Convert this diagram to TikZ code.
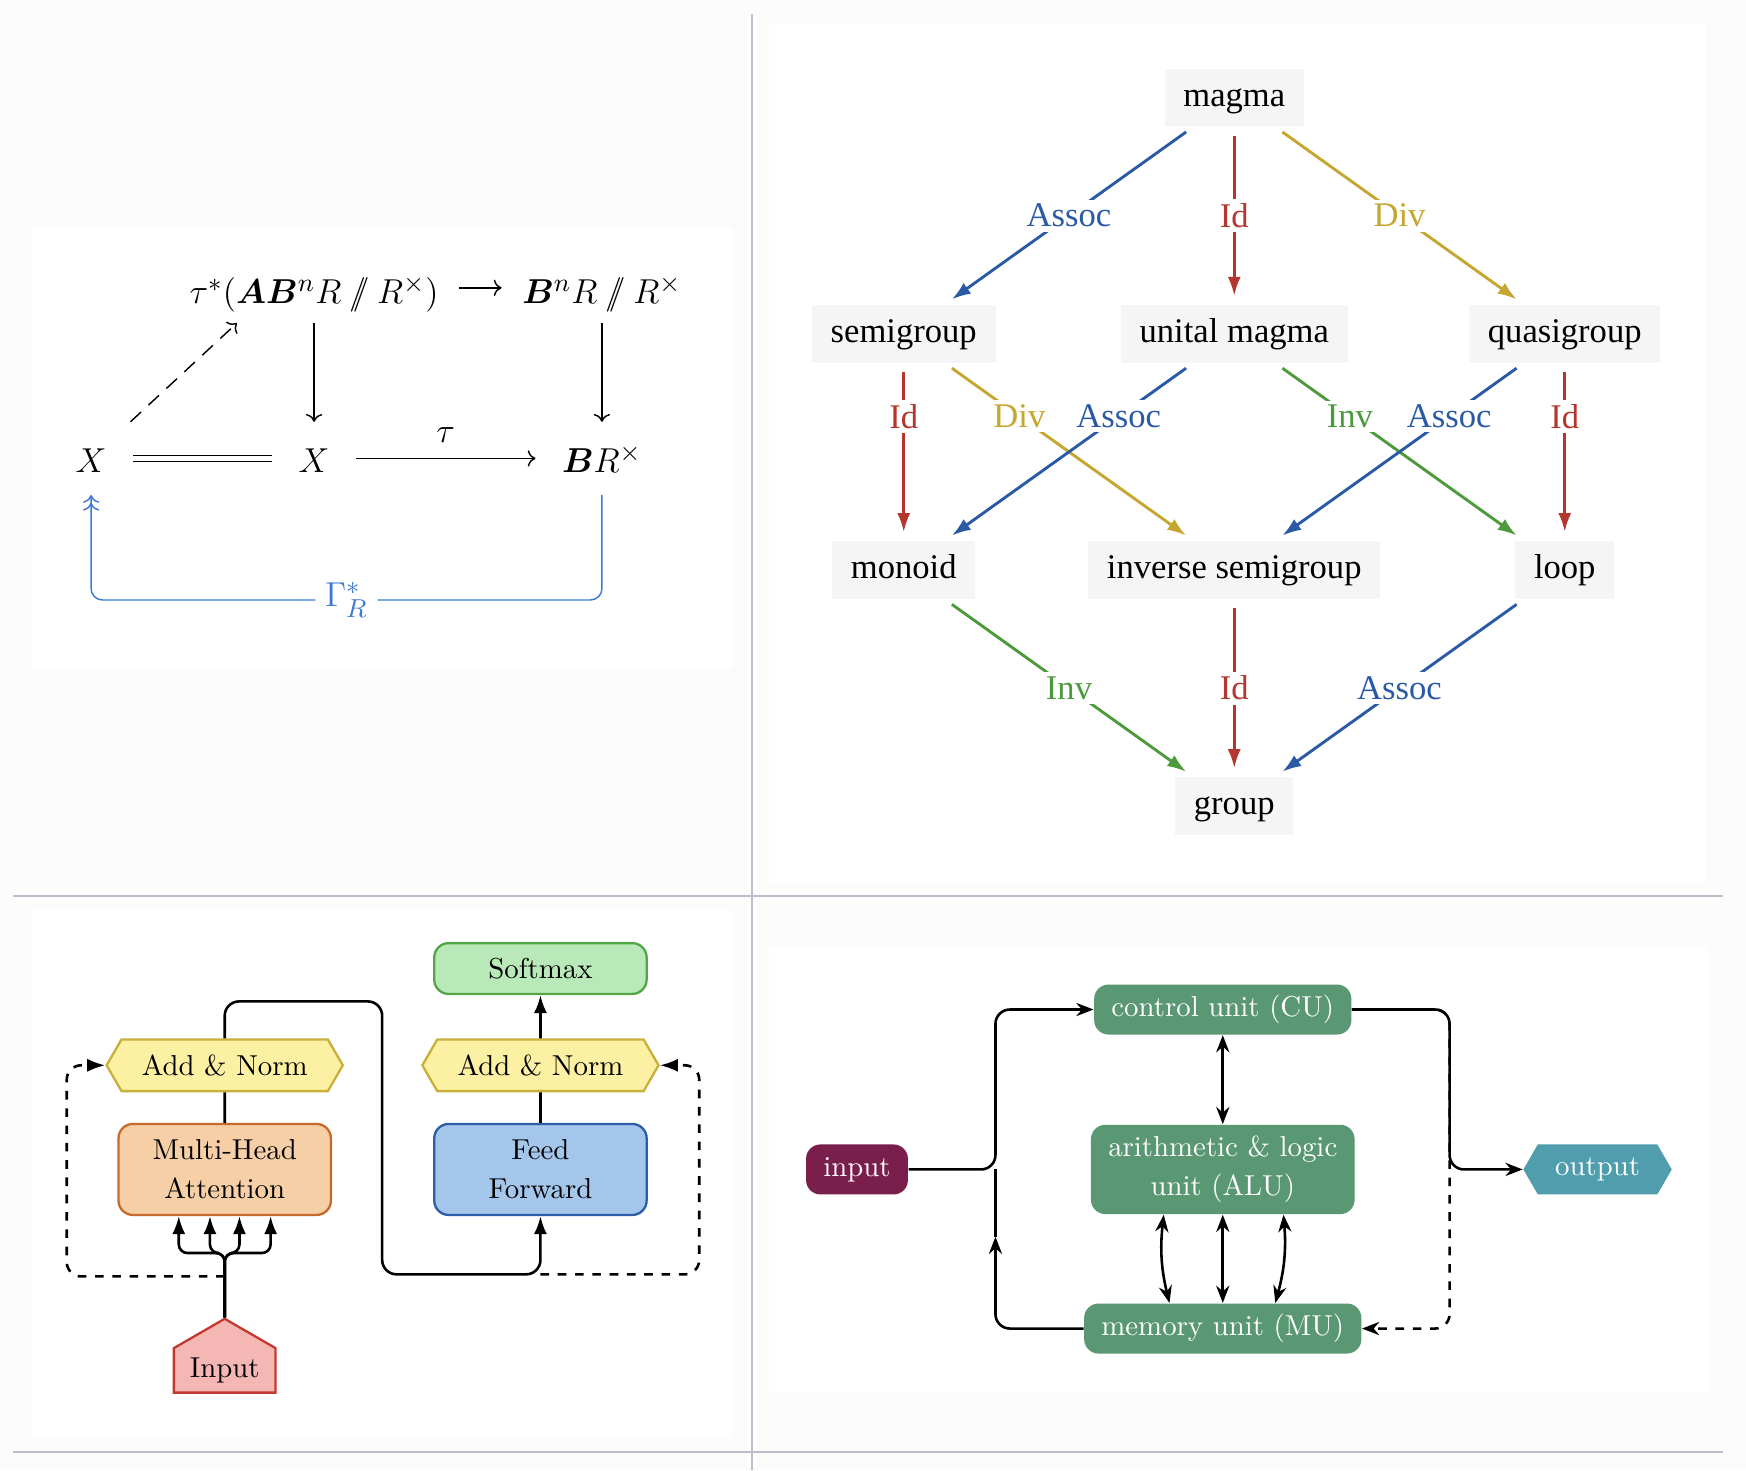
\documentclass[tikz,border=0pt]{standalone}
\usepackage{fontspec}
\usepackage{amsmath,bm}
\usetikzlibrary{positioning,calc,arrows.meta,shapes.symbols}
\newfontfamily\algfont{Liberation Serif}
\newcommand{\dslash}{\mathbin{/\mkern-7mu/}}
\definecolor{pagegray}{HTML}{FCFCFC}
\definecolor{rulegray}{HTML}{BDBDCB}
\definecolor{gammablue}{HTML}{3D7AD6}
\definecolor{boxgray}{HTML}{F5F5F5}
\definecolor{assocblue}{HTML}{2A5AA6}
\definecolor{idred}{HTML}{B5362E}
\definecolor{divyellow}{HTML}{C5A630}
\definecolor{invgreen}{HTML}{4D9A3C}
\definecolor{softfill}{HTML}{B9E8B9}
\definecolor{softline}{HTML}{52A647}
\definecolor{addfill}{HTML}{FCF0A2}
\definecolor{addline}{HTML}{C8B03A}
\definecolor{mhafill}{HTML}{F7CFA6}
\definecolor{mhaline}{HTML}{C66B2B}
\definecolor{fffill}{HTML}{A4C6EB}
\definecolor{ffline}{HTML}{2C5DA9}
\definecolor{inputfill}{HTML}{F4B7B3}
\definecolor{inputline}{HTML}{C4392F}
\definecolor{unitgreen}{HTML}{5A9873}
\definecolor{inwine}{HTML}{7A1F4B}
\definecolor{outteal}{HTML}{4F9DAD}
\begin{document}
\begin{tikzpicture}[
    cd/.style={font=\fontsize{13}{16}\selectfont, inner xsep=9pt, inner ysep=4pt, text height=13.5pt, text depth=3.5pt},
    cdtop/.style={cd, inner xsep=7pt, text depth=2.5pt},
    cdarrow/.style={->, line width=0.5pt},
    alg/.style={fill=boxgray, font=\algfont\fontsize{12}{14}\selectfont, inner xsep=6.5pt, inner ysep=4.5pt, text height=8.5pt, text depth=2.5pt},
    algarrow/.style={line width=1pt, -{Latex[length=2.3mm,width=1.6mm]}, shorten <=3pt, shorten >=3pt},
    lbl/.style={fill=white, inner sep=1.5pt, font=\algfont\fontsize{12}{14}\selectfont},
    block/.style={draw, thick, rounded corners=5pt, minimum width=2.59cm, align=center, font=\fontsize{10}{13.5}\selectfont},
    addnorm/.style={draw=addline, fill=addfill, thick, shape=signal, signal to=west and east, signal pointer angle=120, minimum width=2.88cm, minimum height=0.63cm},
    flow/.style={line width=0.9pt, -{Latex[length=2.2mm,width=1.6mm]}, rounded corners=5pt},
    cpu/.style={fill=unitgreen, text=white, rounded corners=5pt, inner xsep=6pt, minimum height=0.61cm, align=center, font=\fontsize{10}{13.5}\selectfont},
    bus/.style={line width=0.9pt, -{Stealth[length=2.1mm,width=1.6mm]}, rounded corners=5pt},
    biarrow/.style={line width=0.9pt, {Stealth[length=2.1mm,width=1.6mm]}-{Stealth[length=2.1mm,width=1.6mm]}},
    divider/.style={rulegray, line width=0.7pt}
]
\useasboundingbox (0,0) rectangle (21.29,17.93);
\fill[pagegray] (0,0) rectangle (21.29,17.93);
\fill[white] (0.38,9.78) rectangle (8.94,15.15);
\fill[white] (9.38,7.18) rectangle (20.80,17.65);
\fill[white] (0.38,0.41) rectangle (8.93,6.83);
\fill[white] (9.38,0.94) rectangle (20.82,6.39);
\draw[divider] (9.17,0) -- (9.17,17.76);
\draw[divider] (0.16,7.01) -- (21.01,7.01);
\draw[divider] (0.16,0.23) -- (21.01,0.23);

\node[cdtop] (tau) at (3.83,14.42) {$\tau^*(\bm{AB}^n R \dslash R^\times)$};
\node[cdtop] (BnR) [right of=tau, node distance=3.51cm] {$\bm{B}^n R \dslash R^\times$};
\node[cd] (Xm) [below of=tau, node distance=2.08cm] {$X$};
\node[cd] (Xl) [left of=Xm, node distance=2.72cm] {$X$};
\node[cd] (BR) [below of=BnR, node distance=2.08cm] {$\bm{B}R^\times$};
\draw[cdarrow] (tau) -- (BnR);
\draw[cdarrow] (tau) -- (Xm);
\draw[cdarrow] (BnR) -- (BR);
\draw[cdarrow, dash pattern=on 5pt off 3.5pt] (Xl) -- ([xshift=-0.94cm]tau.south);
\draw[line width=0.5pt, double, double distance=1.6pt] (Xl) -- (Xm);
\draw[cdarrow] (Xm) -- node[above=2pt, font=\fontsize{13}{16}\selectfont] {$\tau$} (BR);
\draw[gammablue, line width=0.5pt, ->>, rounded corners=4pt] (BR.south) -- ++(0,-1.28) -| node[pos=0.25, fill=white, font=\fontsize{13}{16}\selectfont] {$\Gamma_R^*$} (Xl.south);

\node[alg] (magma) at (15.05,16.74) {magma};
\node[alg] (unital) [below of=magma, node distance=2.88cm] {unital magma};
\node[alg] (semi) [left of=unital, node distance=4.03cm] {semigroup};
\node[alg] (quasi) [right of=unital, node distance=4.03cm] {quasigroup};
\node[alg] (invsemi) [below of=unital, node distance=2.88cm] {inverse semigroup};
\node[alg] (monoid) [left of=invsemi, node distance=4.03cm] {monoid};
\node[alg] (loop) [right of=invsemi, node distance=4.03cm] {loop};
\node[alg] (group) [below of=invsemi, node distance=2.88cm] {group};
\draw[algarrow, assocblue] (magma) -- node[lbl] {Assoc} (semi);
\draw[algarrow, idred] (magma) -- node[lbl] {Id} (unital);
\draw[algarrow, divyellow] (magma) -- node[lbl] {Div} (quasi);
\draw[algarrow, idred] (semi) -- node[lbl, pos=0.3] {Id} (monoid);
\draw[algarrow, divyellow] (semi) -- node[lbl, pos=0.3] {Div} (invsemi);
\draw[algarrow, assocblue] (unital) -- node[lbl, pos=0.3] {Assoc} (monoid);
\draw[algarrow, invgreen] (unital) -- node[lbl, pos=0.3] {Inv} (loop);
\draw[algarrow, assocblue] (quasi) -- node[lbl, pos=0.3] {Assoc} (invsemi);
\draw[algarrow, idred] (quasi) -- node[lbl, pos=0.3] {Id} (loop);
\draw[algarrow, invgreen] (monoid) -- node[lbl] {Inv} (group);
\draw[algarrow, idred] (invsemi) -- node[lbl] {Id} (group);
\draw[algarrow, assocblue] (loop) -- node[lbl] {Assoc} (group);

\node[block, draw=softline, fill=softfill, minimum height=0.62cm] (soft) at (6.59,6.12) {Softmax};
\node[addnorm] (addR) [below of=soft, node distance=1.18cm] {Add \& Norm};
\node[block, draw=ffline, fill=fffill, minimum height=1.11cm] (ff) [below of=addR, node distance=1.27cm] {Feed\\Forward};
\node[block, draw=mhaline, fill=mhafill, minimum height=1.11cm] (mha) [left of=ff, node distance=3.85cm] {Multi-Head\\Attention};
\node[addnorm] (addL) [above of=mha, node distance=1.27cm] {Add \& Norm};
\node[draw=inputline, fill=inputfill, thick, shape=signal, signal to=north, signal pointer angle=120, minimum width=1.24cm, minimum height=0.66cm] (inp) [below of=mha, node distance=2.45cm] {Input};
\coordinate (fork) at ($(inp.north)+(0,0.5)$);
\coordinate (ffin) at ($(ff.south)+(0,-0.71)$);
\coordinate (hop) at ($(addL.north)+(1.92,0.45)$);
\foreach \dx in {-0.56,-0.18,0.18,0.56}
    \draw[flow, rounded corners=3pt] (inp.north) |- ($(mha.south)+(\dx,-0.45)$) -- ($(mha.south)+(\dx,0)$);
\draw[flow, dashed] (fork) -| ([xshift=-0.47cm]addL.west) -- (addL.west);
\draw[flow, dashed] (ffin) -| ([xshift=0.48cm]addR.east) -- (addR.east);
\draw[line width=0.9pt] (mha) -- (addL);
\draw[flow] (addL.north) |- (hop) |- (ffin) -- (ff.south);
\draw[line width=0.9pt] (ff) -- (addR);
\draw[flow] (addR) -- (soft);

\node[cpu, minimum height=1.09cm] (alu) at (14.91,3.67) {arithmetic \& logic\\unit (ALU)};
\node[cpu] (cu) [above of=alu, node distance=1.95cm] {control unit (CU)};
\node[cpu] (mu) [below of=alu, node distance=1.94cm] {memory unit (MU)};
\node[cpu, fill=inwine, minimum width=1.22cm] (datain) [left of=alu, node distance=4.46cm] {input};
\node[cpu, fill=outteal, shape=signal, signal to=west and east, signal pointer angle=120, sharp corners, minimum width=1.74cm] (dataout) [right of=alu, node distance=4.57cm] {output};
\coordinate (lbus) at ($(datain.east)+(1.06,0)$);
\coordinate (lup) at ($(lbus)+(0,-0.82)$);
\coordinate (rbus) at ($(cu.east)+(1.19,0)$);
\draw[bus] (datain.east) -- (lbus) |- (cu.west);
\draw[bus] (mu.west) -| (lup);
\draw[line width=0.9pt] (lup) -- (lbus);
\draw[bus] (cu.east) -- (rbus) |- (dataout.west);
\draw[bus, dashed] (cu.east) -- (rbus) |- (mu.east);
\draw[biarrow] (cu) -- (alu);
\draw[biarrow] (alu) -- (mu);
\draw[biarrow] ([xshift=-0.72cm]alu.south) to[bend right=10] ([xshift=-0.65cm]mu.north);
\draw[biarrow] ([xshift=0.74cm]alu.south) to[bend left=10] ([xshift=0.64cm]mu.north);
\end{tikzpicture}
\end{document}
